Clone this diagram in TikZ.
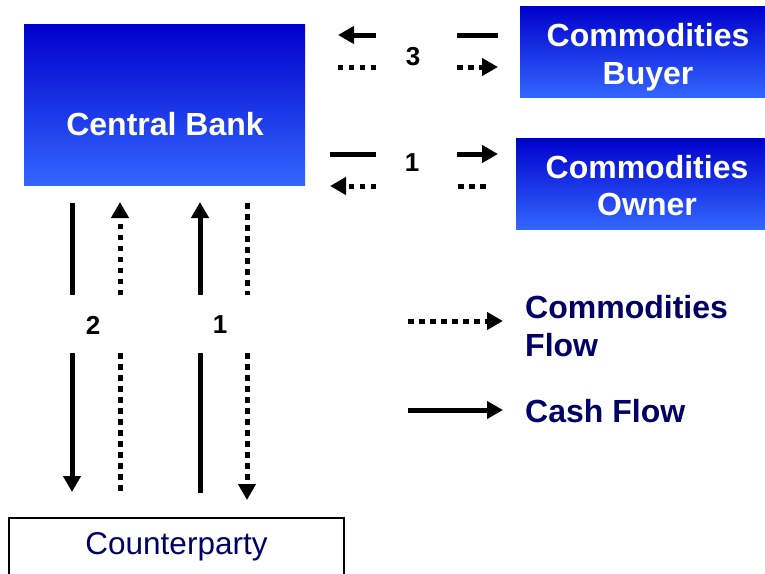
\documentclass[tikz,border=0pt]{standalone}
\usepackage{fontspec}
\setmainfont{Liberation Sans}
\usetikzlibrary{arrows.meta}
\definecolor{bluetop}{RGB}{0,0,204}
\definecolor{bluebot}{RGB}{51,102,255}
\definecolor{navy}{RGB}{0,0,102}
\tikzset{
  bluebox/.style={top color=bluetop, bottom color=bluebot, draw=none, inner sep=0pt},
  boxtext/.style={text=white, font=\fontsize{32}{37.5}\selectfont\bfseries, align=center, inner sep=0pt},
  cash/.style={line width=5pt},
  goods/.style={line width=5pt, dash pattern=on 5.5pt off 5.5pt},
  tip/.style={-{Triangle[length=16pt,width=17pt]}},
  num/.style={font=\fontsize{26}{30}\selectfont\bfseries},
  legtext/.style={text=navy, font=\fontsize{32}{37.5}\selectfont\bfseries, align=left, anchor=west, inner sep=0pt},
}
\begin{document}
\begin{tikzpicture}[x=1pt,y=-1pt]
\useasboundingbox (0,0) rectangle (765,573);
% boxes
\node[bluebox, minimum width=281pt, minimum height=161pt] (cb) at (164.5,104.5) {};
\node[boxtext] (cbt) at (165,124) {Central Bank};
\node[bluebox, minimum width=256pt, minimum height=91pt] (buyer) at (648,51.5) {};
\node[boxtext] (buyert) at (648,57) {Commodities\\Buyer};
\node[bluebox, minimum width=262pt, minimum height=91pt] (owner) at (647,183.5) {};
\node[boxtext] (ownert) at (647,185.5) {Commodities\\Owner};
\node[draw=black, line width=2pt, minimum width=335pt, minimum height=58pt, anchor=north,
  text=navy, font=\fontsize{31.5}{36}\selectfont] (cp) at (176.5,517) {Counterparty};
% numbers
\node[num] (n3) at (413,57) {3};
\node[num] (n1r) at (412,163) {1};
\node[num] (n2) at (93,325) {2};
\node[num] (n1v) at (220,325) {1};
% coordinates
\coordinate (a1) at (376,35);  \coordinate (a2) at (338,35);
\coordinate (b1) at (376,67);  \coordinate (b2) at (338,67);
\coordinate (c1) at (457,35);  \coordinate (c2) at (498,35);
\coordinate (d1) at (457,67);  \coordinate (d2) at (498,67);
\coordinate (e1) at (330,154); \coordinate (e2) at (376,154);
\coordinate (f1) at (376,186); \coordinate (f2) at (330,186);
\coordinate (g1) at (457,154); \coordinate (g2) at (498,154);
\coordinate (h1) at (458,186); \coordinate (h2) at (490,186);
% row 3
\draw[cash,tip] (a1) -- (a2);
\draw[goods] (b1) -- (b2);
\draw[cash] (c1) -- (c2);
\draw[goods,tip] (d1) -- (d2);
% row 1
\draw[cash] (e1) -- (e2);
\draw[goods,tip] (f1) -- (f2);
\draw[cash,tip] (g1) -- (g2);
\draw[goods] (h1) -- (h2);
% verticals
\coordinate (va1) at (72,203);  \coordinate (va2) at (72,295);
\coordinate (va3) at (72,353);  \coordinate (va4) at (72,492);
\coordinate (vb1) at (120,295); \coordinate (vb2) at (120,202);
\coordinate (vb3) at (120,353); \coordinate (vb4) at (120,493);
\coordinate (vc1) at (200,295); \coordinate (vc2) at (200,202);
\coordinate (vc3) at (200,353); \coordinate (vc4) at (200,493);
\coordinate (vd1) at (247,203); \coordinate (vd2) at (247,295);
\coordinate (vd3) at (247,353); \coordinate (vd4) at (247,500);
\draw[cash] (va1) -- (va2);
\draw[cash,tip] (va3) -- (va4);
\draw[goods,tip] (vb1) -- (vb2);
\draw[goods] (vb3) -- (vb4);
\draw[cash,tip] (vc1) -- (vc2);
\draw[cash] (vc3) -- (vc4);
\draw[goods] (vd1) -- (vd2);
\draw[goods,tip] (vd3) -- (vd4);
% legend
\coordinate (lg1) at (408,321); \coordinate (lg2) at (503,321);
\coordinate (lc1) at (408,410); \coordinate (lc2) at (503,410);
\draw[goods,tip] (lg1) -- (lg2);
\draw[cash,tip] (lc1) -- (lc2);
\node[legtext] (lgt) at (525,326) {Commodities\\Flow};
\node[legtext] (lct) at (525,411) {Cash Flow};
\end{tikzpicture}
\end{document}
